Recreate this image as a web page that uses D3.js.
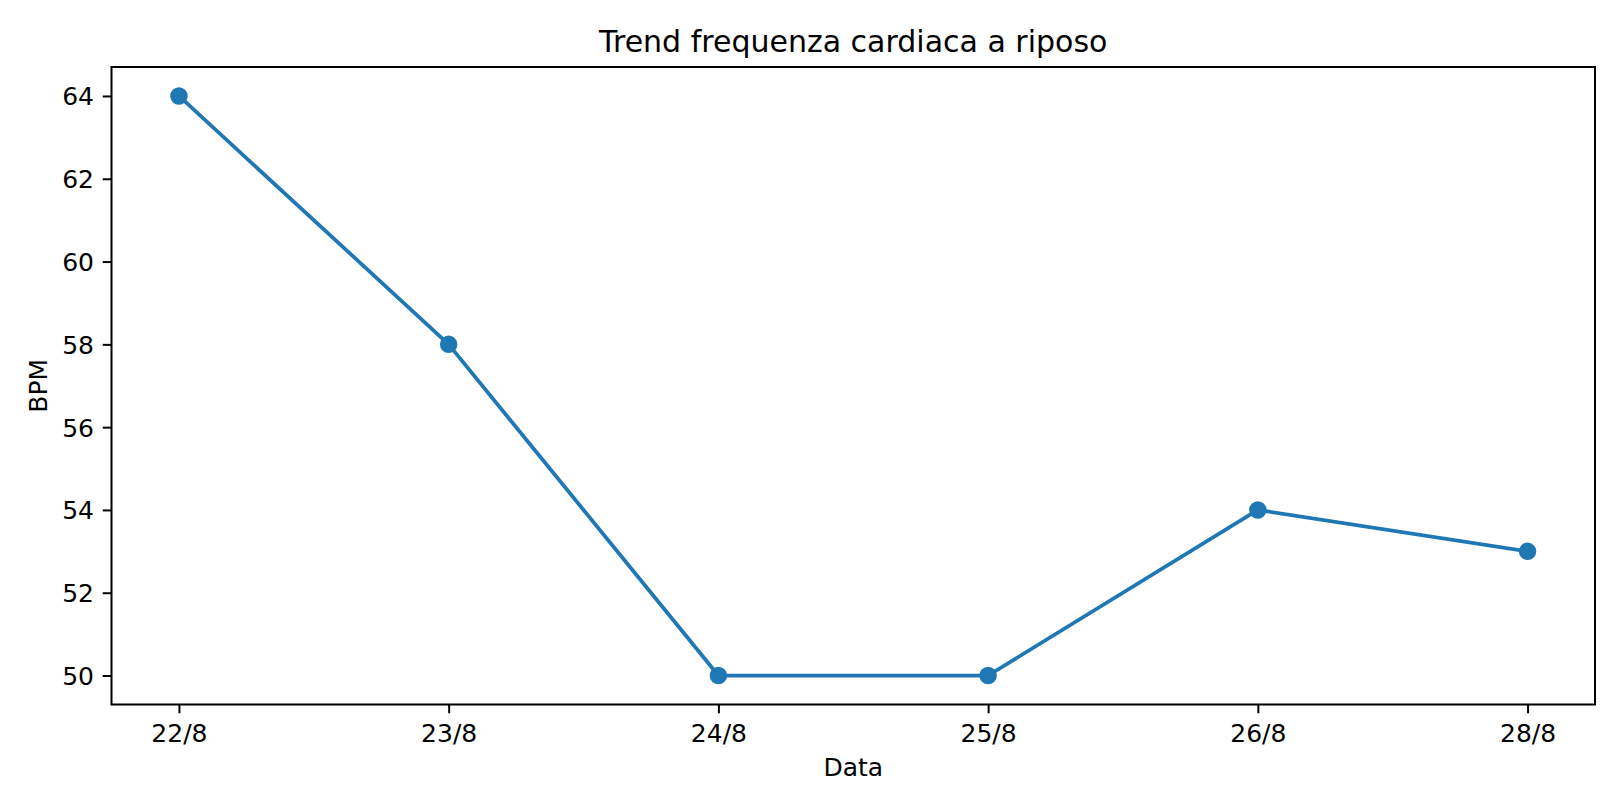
<!DOCTYPE html>
<html>
<head>
<meta charset="utf-8">
<script src="https://cdn.jsdelivr.net/npm/d3@7"></script>
<style>
  body { margin: 0; background: #fff; }
  svg { display: block; font-family: "DejaVu Sans", sans-serif; }
</style>
</head>
<body>
<svg id="chart" width="1620" height="810"></svg>
<script>
// values
const dates = ['22/8', '23/8', '24/8', '25/8', '26/8', '28/8'];
const bpm = [64, 58, 50, 50, 54, 53];
const yTicks = [50, 52, 54, 56, 58, 60, 62, 64];

const width = 1620, height = 810;
const margin = { top: 67, right: 25, bottom: 105.5, left: 111.5 };
const blue = '#1f77b4';
const font = '"DejaVu Sans", sans-serif';

const svg = d3.select('#chart');
svg.append('rect').attr('width', width).attr('height', height).attr('fill', '#fff');

// categorical axis with matplotlib-style 5% margins
const x = d3.scaleLinear()
  .domain([-0.25, dates.length - 1 + 0.25])
  .range([margin.left, width - margin.right]);

const yPad = (d3.max(bpm) - d3.min(bpm)) * 0.05;
const y = d3.scaleLinear()
  .domain([d3.min(bpm) - yPad, d3.max(bpm) + yPad])
  .range([height - margin.bottom, margin.top]);

// x axis
const xAxis = svg.append('g')
  .attr('transform', `translate(0,${height - margin.bottom})`)
  .call(d3.axisBottom(x)
    .tickValues(d3.range(dates.length))
    .tickFormat(i => dates[i])
    .tickSize(8.75)
    .tickPadding(8.75));
xAxis.attr('font-family', font);
xAxis.select('.domain').remove();
xAxis.selectAll('line').attr('stroke', '#000').attr('stroke-width', 2);
xAxis.selectAll('text')
  .attr('font-size', 25).attr('fill', '#000')
  .attr('dy', null).attr('y', 37.5);

// y axis
const yAxis = svg.append('g')
  .attr('transform', `translate(${margin.left},0)`)
  .call(d3.axisLeft(y)
    .tickValues(yTicks)
    .tickSize(8.75)
    .tickPadding(8.75));
yAxis.attr('font-family', font);
yAxis.select('.domain').remove();
yAxis.selectAll('line').attr('stroke', '#000').attr('stroke-width', 2);
yAxis.selectAll('text')
  .attr('font-size', 25).attr('fill', '#000')
  .attr('dy', '0.36em');

// frame
svg.append('rect')
  .attr('x', margin.left).attr('y', margin.top)
  .attr('width', width - margin.left - margin.right)
  .attr('height', height - margin.top - margin.bottom)
  .attr('fill', 'none').attr('stroke', '#000').attr('stroke-width', 2);

// line + markers
const line = d3.line()
  .x((d, i) => x(i))
  .y(d => y(d));

svg.append('path')
  .datum(bpm)
  .attr('d', line)
  .attr('fill', 'none')
  .attr('stroke', blue)
  .attr('stroke-width', 3.75)
  .attr('stroke-linejoin', 'round')
  .attr('stroke-linecap', 'square');

svg.selectAll('.dot')
  .data(bpm)
  .enter().append('circle')
  .attr('class', 'dot')
  .attr('cx', (d, i) => x(i))
  .attr('cy', d => y(d))
  .attr('r', 7.5)
  .attr('fill', blue)
  .attr('stroke', blue)
  .attr('stroke-width', 2.5);

// labels
const cx = (margin.left + width - margin.right) / 2;
const cy = (margin.top + height - margin.bottom) / 2;

svg.append('text')
  .attr('x', cx).attr('y', 52)
  .attr('text-anchor', 'middle')
  .attr('font-size', 30)
  .text('Trend frequenza cardiaca a riposo');

svg.append('text')
  .attr('x', cx).attr('y', 776)
  .attr('text-anchor', 'middle')
  .attr('font-size', 25)
  .text('Data');

svg.append('text')
  .attr('transform', `translate(47,${cy}) rotate(-90)`)
  .attr('text-anchor', 'middle')
  .attr('font-size', 25)
  .text('BPM');
</script>
</body>
</html>
